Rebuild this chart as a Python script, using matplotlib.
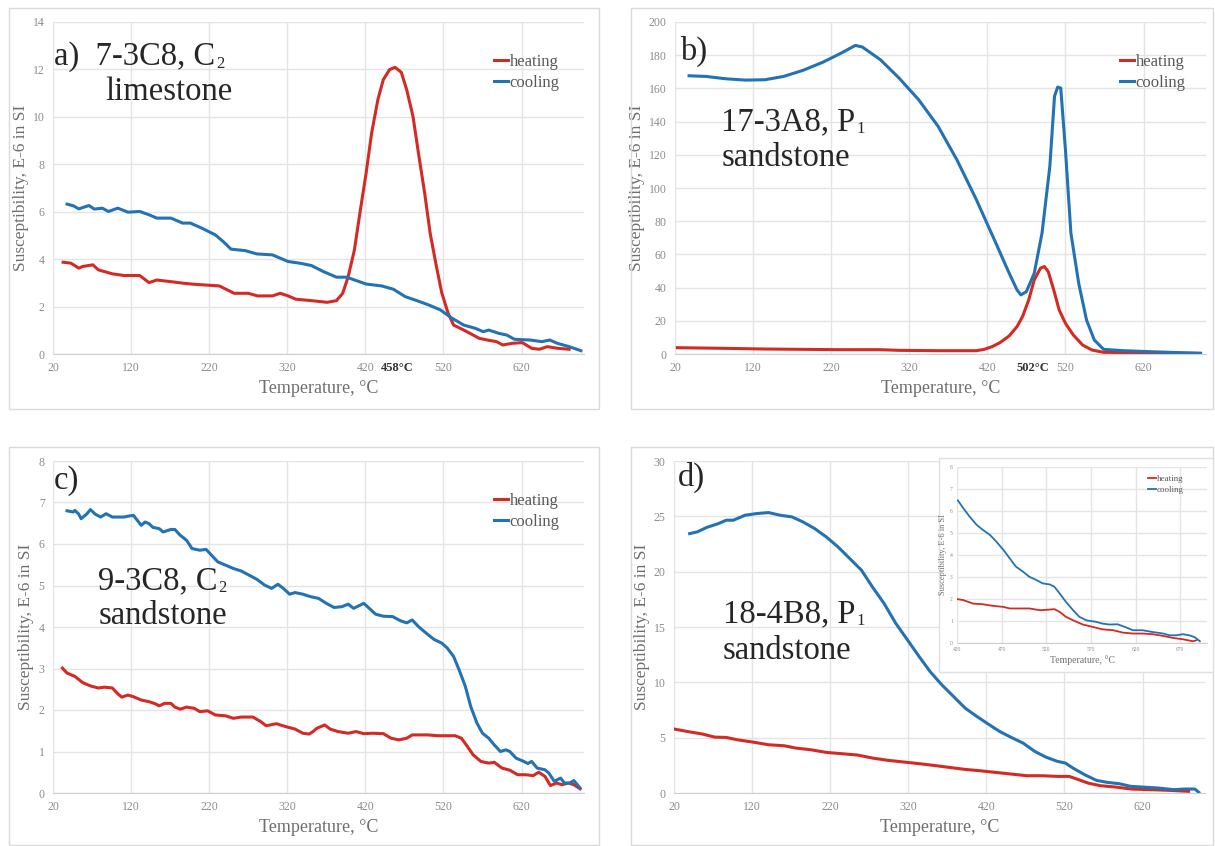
import numpy as np
import matplotlib
matplotlib.use("Agg")
import matplotlib.pyplot as plt
from matplotlib.patches import Rectangle

plt.rcParams["font.family"] = ["Liberation Serif", "DejaVu Serif"]

ROJO = "#d42a24"
AZUL = "#2372b4"

# =========================
# DATOS
# =========================

# a) 7-3C8, C2 limestone
a_heat_t = [33, 43, 53, 58, 71, 78, 96, 111, 131, 143, 153, 171, 188, 201, 233, 252, 270, 282, 301, 311,
            321, 331, 351, 371, 383, 391, 398, 406, 413, 421, 428, 436, 443, 451, 458, 466, 473, 481,
            488, 496, 503, 511, 518, 526, 533, 546, 558, 566, 576, 588, 596, 608, 621, 633, 643, 653, 666, 681]
a_heat_v = [3.87, 3.83, 3.62, 3.69, 3.76, 3.55, 3.38, 3.31, 3.31, 3.01, 3.12, 3.05, 2.98, 2.94, 2.87, 2.56,
            2.56, 2.45, 2.45, 2.56, 2.45, 2.31, 2.25, 2.18, 2.25, 2.56, 3.26, 4.39, 5.94, 7.63, 9.31, 10.72,
            11.57, 11.99, 12.09, 11.88, 11.14, 10.02, 8.47, 6.78, 5.09, 3.69, 2.56, 1.72, 1.22, 1.01, 0.80,
            0.66, 0.59, 0.52, 0.38, 0.45, 0.48, 0.24, 0.20, 0.31, 0.24, 0.20]
a_cool_t = [38, 46, 53, 66, 73, 83, 91, 103, 116, 131, 143, 153, 171, 186, 196, 211, 228, 238, 248, 266,
            281, 301, 321, 336, 351, 366, 383, 396, 408, 421, 441, 456, 471, 486, 501, 516, 531, 546, 561,
            571, 578, 591, 601, 611, 631, 646, 656, 666, 681, 696]
a_cool_v = [6.32, 6.25, 6.12, 6.26, 6.11, 6.15, 6.01, 6.15, 5.98, 6.01, 5.87, 5.73, 5.73, 5.52, 5.52, 5.30,
            5.02, 4.74, 4.42, 4.36, 4.22, 4.18, 3.90, 3.83, 3.73, 3.48, 3.24, 3.24, 3.10, 2.95, 2.87, 2.73,
            2.42, 2.25, 2.07, 1.86, 1.51, 1.22, 1.08, 0.94, 1.01, 0.87, 0.80, 0.62, 0.59, 0.52, 0.59, 0.45,
            0.31, 0.14]

# b) 17-3A8, P1 sandstone
b_heat_t = [23, 85, 135, 184, 233, 283, 307, 357, 406, 416, 426, 436, 448, 458, 465, 473, 480, 488, 493,
            498, 505, 512, 520, 530, 542, 554, 569, 604, 693]
b_heat_v = [3.8, 3.4, 3.0, 2.8, 2.6, 2.6, 2.2, 2.0, 2.0, 2.8, 4.4, 6.8, 10.9, 16.5, 22.5, 32.6, 44.6, 51.7,
            52.7, 49.6, 38.6, 26.5, 18.5, 11.5, 5.4, 2.4, 1.0, 0.8, 0.4]
b_cool_t = [38, 60, 85, 110, 135, 159, 184, 209, 233, 251, 260, 283, 307, 332, 357, 381, 406, 431, 446,
            458, 463, 470, 480, 490, 500, 506, 510, 514, 520, 527, 537, 547, 557, 569, 594, 628, 693]
b_cool_v = [167.6, 167.2, 165.8, 165.0, 165.2, 167.2, 170.9, 175.7, 181.3, 185.9, 184.9, 177.3, 166.2,
            153.2, 137.1, 117.0, 92.9, 66.7, 50.7, 38.6, 35.6, 37.6, 48.6, 72.8, 113.0, 155.2, 160.8,
            160.2, 123.0, 72.8, 42.6, 20.5, 8.4, 2.8, 2.0, 1.4, 0.4]

# c) 9-3C8, C2 sandstone
c_heat_t = [32, 38, 48, 58, 68, 78, 86, 96, 103, 108, 116, 123, 133, 143, 151, 156, 163, 171, 176, 183,
            191, 201, 208, 218, 228, 241, 251, 261, 276, 286, 293, 306, 318, 330, 340, 348, 353, 358, 368,
            375, 385, 398, 408, 418, 430, 443, 453, 463, 473, 480, 500, 513, 523, 535, 543, 550, 558, 568,
            578, 585, 595, 605, 615, 625, 635, 642, 650, 657, 665, 672, 680, 687, 695]
c_heat_v = [3.01, 2.89, 2.81, 2.66, 2.58, 2.53, 2.55, 2.53, 2.39, 2.31, 2.36, 2.32, 2.24, 2.20, 2.15, 2.10,
            2.16, 2.16, 2.07, 2.02, 2.07, 2.04, 1.96, 1.98, 1.88, 1.86, 1.80, 1.83, 1.83, 1.72, 1.62, 1.67,
            1.60, 1.54, 1.44, 1.42, 1.48, 1.56, 1.64, 1.54, 1.48, 1.44, 1.48, 1.43, 1.44, 1.43, 1.32, 1.28,
            1.32, 1.40, 1.40, 1.38, 1.38, 1.38, 1.32, 1.14, 0.92, 0.76, 0.72, 0.74, 0.60, 0.55, 0.44, 0.44,
            0.42, 0.50, 0.40, 0.18, 0.24, 0.20, 0.24, 0.20, 0.10]
c_cool_t = [38, 46, 48, 53, 56, 63, 68, 74, 81, 88, 96, 111, 116, 123, 128, 133, 138, 143, 148, 156, 161,
            171, 176, 183, 191, 198, 208, 216, 223, 231, 241, 251, 261, 271, 281, 291, 300, 308, 315, 323,
            330, 340, 350, 360, 370, 380, 390, 398, 405, 418, 425, 433, 443, 455, 465, 473, 480, 488, 498,
            508, 518, 525, 533, 540, 548, 555, 563, 570, 578, 585, 593, 600, 605, 613, 623, 628, 633, 640,
            650, 655, 662, 670, 675, 682, 687, 695]
c_cool_v = [6.80, 6.77, 6.81, 6.72, 6.61, 6.72, 6.83, 6.72, 6.65, 6.73, 6.65, 6.65, 6.67, 6.69, 6.57, 6.45,
            6.53, 6.49, 6.40, 6.37, 6.29, 6.35, 6.35, 6.21, 6.09, 5.89, 5.85, 5.87, 5.73, 5.57, 5.49, 5.41,
            5.35, 5.25, 5.15, 5.01, 4.93, 5.03, 4.93, 4.79, 4.83, 4.79, 4.73, 4.69, 4.57, 4.47, 4.49, 4.55,
            4.45, 4.57, 4.45, 4.31, 4.26, 4.25, 4.15, 4.10, 4.17, 4.01, 3.85, 3.70, 3.61, 3.49, 3.29, 2.97,
            2.57, 2.08, 1.68, 1.44, 1.32, 1.16, 1.00, 1.04, 1.00, 0.84, 0.76, 0.71, 0.76, 0.60, 0.56, 0.48,
            0.28, 0.36, 0.24, 0.24, 0.30, 0.12]

# d) 18-4B8, P1 sandstone
d_heat_t = [21, 37, 57, 72, 87, 101, 121, 141, 161, 176, 195, 215, 235, 255, 274, 294, 314, 334, 353, 373,
            393, 412, 432, 452, 472, 492, 511, 526, 536, 550, 566, 585, 605, 630, 654, 679]
d_heat_v = [5.77, 5.56, 5.32, 5.05, 5.02, 4.81, 4.60, 4.36, 4.27, 4.06, 3.91, 3.67, 3.55, 3.43, 3.16, 2.95,
            2.80, 2.65, 2.49, 2.31, 2.13, 2.01, 1.86, 1.71, 1.56, 1.56, 1.50, 1.50, 1.26, 0.90, 0.66, 0.54,
            0.36, 0.30, 0.24, 0.15]
d_cool_t = [40, 50, 62, 77, 87, 96, 111, 126, 141, 156, 171, 185, 200, 215, 230, 245, 260, 274, 289, 304,
            319, 334, 348, 363, 378, 393, 408, 422, 437, 452, 467, 482, 496, 511, 521, 531, 546, 561, 575,
            590, 605, 620, 640, 660, 674, 687, 692]
d_cool_v = [23.44, 23.6, 24.0, 24.35, 24.65, 24.65, 25.1, 25.25, 25.34, 25.1, 24.95, 24.5, 23.9, 23.14,
            22.24, 21.19, 20.14, 18.63, 17.13, 15.33, 13.83, 12.32, 10.97, 9.77, 8.72, 7.66, 6.91, 6.25,
            5.56, 5.02, 4.51, 3.76, 3.25, 2.86, 2.71, 2.25, 1.65, 1.14, 0.96, 0.84, 0.60, 0.54, 0.45, 0.30,
            0.36, 0.36, 0.06]

# d) recuadro 420-700 C
d_ins_heat_t = [421, 427, 438, 449, 460, 472, 479, 490, 501, 513, 524, 529, 535, 542, 550, 561, 572, 583,
                595, 606, 617, 628, 639, 651, 662, 673, 684, 688]
d_ins_heat_v = [1.99, 1.95, 1.79, 1.76, 1.69, 1.64, 1.57, 1.57, 1.57, 1.49, 1.52, 1.54, 1.41, 1.19, 1.03,
                0.84, 0.73, 0.62, 0.58, 0.47, 0.43, 0.43, 0.40, 0.32, 0.23, 0.17, 0.08, 0.12]
d_ins_cool_t = [421, 427, 434, 442, 449, 457, 464, 472, 479, 486, 494, 501, 509, 516, 524, 529, 535, 542,
                550, 557, 565, 576, 583, 591, 600, 610, 617, 628, 639, 651, 658, 666, 673, 680, 686, 692]
d_ins_cool_v = [6.48, 6.13, 5.75, 5.37, 5.14, 4.91, 4.61, 4.23, 3.85, 3.47, 3.24, 3.01, 2.86, 2.71, 2.66,
                2.56, 2.25, 1.87, 1.49, 1.19, 1.03, 0.96, 0.88, 0.84, 0.85, 0.70, 0.58, 0.58, 0.50, 0.43,
                0.35, 0.35, 0.40, 0.35, 0.27, 0.08]


def estilo_ejes(ax, ymax, ystep, xmin=20, xstep=100, tam_tick=8.5, tam_label=13, tam_ylabel=12.5,
                pad_tick=6, pad_x=4, pad_y=3):
    """Aplica el estilo tipo Excel a un panel."""
    ax.set_xlim(xmin, 700)
    ax.set_ylim(0, ymax)
    ax.set_xticks(np.arange(xmin, 700, xstep))
    ax.set_yticks(np.arange(0, ymax + ystep / 2, ystep))
    ax.grid(True, color="#e4e4e4", lw=1)
    ax.set_axisbelow(True)
    for lado in ["top", "right", "left"]:
        ax.spines[lado].set_visible(False)
    ax.spines["bottom"].set_color("#cfcfcf")
    ax.tick_params(length=0, labelsize=tam_tick, colors="#8c8c8c", pad=pad_tick)
    ax.set_xlabel("Temperature, °C", fontsize=tam_label, color="#6e6e6e", labelpad=pad_x)
    ax.set_ylabel("Susceptibility, E-6 in SI", fontsize=tam_ylabel, color="#6e6e6e", labelpad=pad_y)


def dibujar(ax, th, vh, tc, vc, lw=2.2):
    ax.plot(th, vh, color=ROJO, lw=lw, label="heating", solid_joinstyle="round")
    ax.plot(tc, vc, color=AZUL, lw=lw, label="cooling", solid_joinstyle="round")


def leyenda(ax, x, y, tam=12):
    leg = ax.legend(loc="upper left", bbox_to_anchor=(x, y), frameon=False, fontsize=tam,
                    handlelength=0.85, handletextpad=0.1, borderpad=0, labelspacing=0.3,
                    borderaxespad=0)
    for t in leg.get_texts():
        t.set_color("#595959")


W, H = 1215, 846
fig = plt.figure(figsize=(W / 100, H / 100), dpi=100)
fig.patch.set_facecolor("white")
renderer = fig.canvas.get_renderer()


def rect_fig(x0, y0, x1, y1, **kw):
    # coordenadas en pixeles desde arriba a la izquierda
    return Rectangle((x0 / W, 1 - y1 / H), (x1 - x0) / W, (y1 - y0) / H,
                     transform=fig.transFigure, **kw)


for (x0, y0, x1, y1) in [(9, 8, 599, 409), (631, 8, 1213, 409), (9, 447, 599, 845), (631, 447, 1213, 845)]:
    fig.patches.append(rect_fig(x0, y0, x1, y1, fill=False, edgecolor="#dadada", lw=1))


def crear_ejes(x0, y0, x1, y1, **kw):
    return fig.add_axes([x0 / W, 1 - y1 / H, (x1 - x0) / W, (y1 - y0) / H], **kw)


TAM_TITULO = 23.5
COLOR_TITULO = "#262626"


def titulo(ax, x, y, texto, sub=None):
    """Texto grande del panel; el subindice se pone aparte, mas chico y mas abajo."""
    t = ax.text(x, y, texto, transform=ax.transAxes, fontsize=TAM_TITULO,
                color=COLOR_TITULO, va="baseline")
    if sub:
        bb = t.get_window_extent(renderer)
        _, yb = ax.transAxes.transform((x, y))
        fig.text((bb.x1 + 1) / W, (yb - 3) / H, sub, fontsize=12, color=COLOR_TITULO,
                 va="baseline")


# =========================
# PANEL a
# =========================
ax_a = crear_ejes(53, 22, 584, 354)
dibujar(ax_a, a_heat_t, a_heat_v, a_cool_t, a_cool_v)
estilo_ejes(ax_a, 14, 2)
leyenda(ax_a, 0.83, 0.905)
titulo(ax_a, 0.002, 0.870, "a)  7-3C8, C", "2")
titulo(ax_a, 0.098, 0.765, "limestone")
ax_a.text(461, -0.025, "458°C", transform=ax_a.get_xaxis_transform(), ha="center", va="top",
          fontsize=9, color="#333333", fontweight="bold")

# =========================
# PANEL b
# =========================
ax_b = crear_ejes(675, 22, 1206, 354)
dibujar(ax_b, b_heat_t, b_heat_v, b_cool_t, b_cool_v)
estilo_ejes(ax_b, 200, 20)
leyenda(ax_b, 0.838, 0.905)
titulo(ax_b, 0.009, 0.886, "b)")
titulo(ax_b, 0.087, 0.675, "17-3A8, P", "1")
titulo(ax_b, 0.087, 0.566, "sandstone")
ax_b.text(478, -0.025, "502°C", transform=ax_b.get_xaxis_transform(), ha="center", va="top",
          fontsize=9, color="#333333", fontweight="bold")

# =========================
# PANEL c
# =========================
ax_c = crear_ejes(53, 461, 584, 793)
dibujar(ax_c, c_heat_t, c_heat_v, c_cool_t, c_cool_v)
estilo_ejes(ax_c, 8, 1)
leyenda(ax_c, 0.83, 0.905)
titulo(ax_c, 0.002, 0.917, "c)")
titulo(ax_c, 0.085, 0.613, "9-3C8, C", "2")
titulo(ax_c, 0.085, 0.508, "sandstone")

# =========================
# PANEL d
# =========================
ax_d = crear_ejes(674, 461, 1205, 793)
dibujar(ax_d, d_heat_t, d_heat_v, d_cool_t, d_cool_v)
estilo_ejes(ax_d, 30, 5)
titulo(ax_d, 0.008, 0.925, "d)")
titulo(ax_d, 0.092, 0.515, "18-4B8, P", "1")
titulo(ax_d, 0.092, 0.405, "sandstone")

# recuadro (inset) de d
marco = rect_fig(939, 458, 1213, 672, facecolor="white", edgecolor="#e0e0e0", lw=1, zorder=2)
fig.patches.append(marco)
ax_in = crear_ejes(957, 467, 1207, 643, zorder=3)
dibujar(ax_in, d_ins_heat_t, d_ins_heat_v, d_ins_cool_t, d_ins_cool_v, lw=1.3)
estilo_ejes(ax_in, 8, 1, xmin=420, xstep=50, tam_tick=4, tam_label=7, tam_ylabel=6,
            pad_tick=3, pad_x=2, pad_y=2)
leyenda(ax_in, 0.764, 0.955, tam=6.5)

fig.savefig("out.png", dpi=100, facecolor="white")
